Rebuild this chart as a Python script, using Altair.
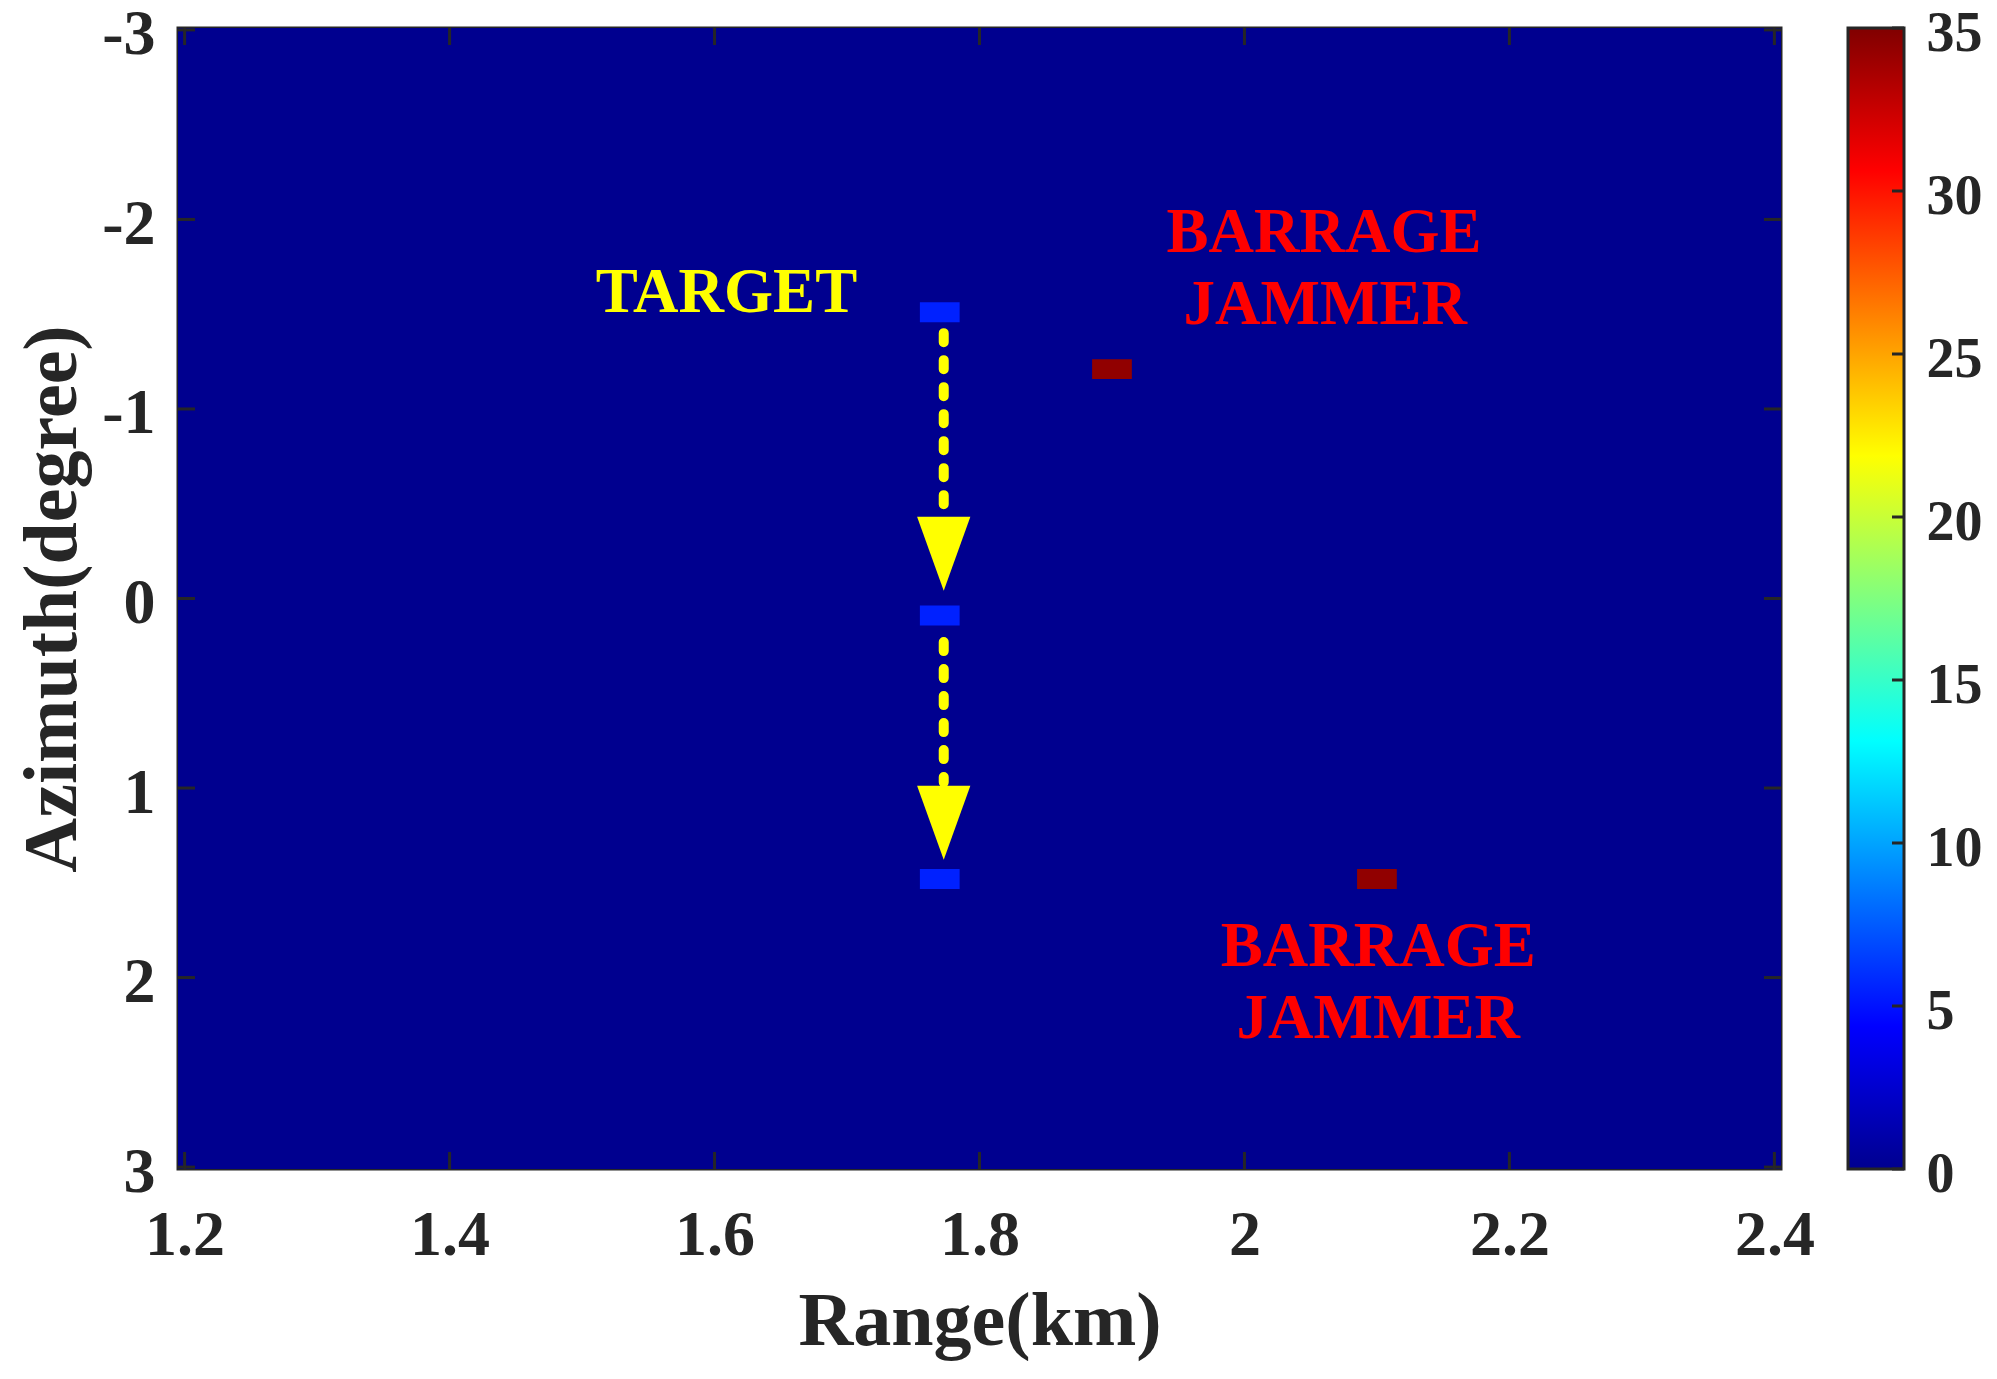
import altair as alt
import pandas as pd

# ---------------- data ----------------
range_ticks = [1.2, 1.4, 1.6, 1.8, 2.0, 2.2, 2.4]
azimuth_ticks = [-3, -2, -1, 0, 1, 2, 3]
range_domain = [1.195, 2.405]
azimuth_domain = [-3.01, 3.01]
colorbar_ticks = [0, 5, 10, 15, 20, 25, 30, 35]
colorbar_range = [0, 35]

# non-zero heatmap cells (centres)
cell_range = [1.77, 1.77, 1.77, 1.90, 2.10]
cell_azimuth = [-1.51, 0.09, 1.48, -1.21, 1.48]
cell_value = [5.5, 5.5, 5.5, 34.4, 34.4]
cell_width_km = 0.03
cell_height_deg = 0.105
background_value = 0

# arrows (target motion)
arrow_range = [1.773, 1.773]
arrow_shaft_start = [-1.40, 0.23]
arrow_shaft_end = [-0.46, 0.97]
arrow_head_center = [-0.236, 1.183]

# annotations
label_text = ["TARGET", "BARRAGE", "JAMMER", "BARRAGE", "JAMMER"]
label_range = [1.609, 2.060, 2.061, 2.101, 2.101]
label_azimuth = [-1.61, -1.93, -1.55, 1.84, 2.22]
label_color = ["#FFFF00", "#FF0000", "#FF0000", "#FF0000", "#FF0000"]

# jet colour map
jet_domain = [0, 4.375, 13.125, 21.875, 30.625, 35]
jet_range = ["#00008F", "#0000FF", "#00FFFF", "#FFFF00", "#FF0000", "#800000"]

W, H = 1603, 1141
TICK = 17
CB_GAP, CB_W, CB_TICK = 67, 56, 12
FONT = "Liberation Serif"
INK = "#262626"

# ---------------- tables ----------------
rows = [dict(x0=range_domain[0], x1=range_domain[1],
             y0=azimuth_domain[0], y1=azimuth_domain[1], value=background_value)]
for r, a, v in zip(cell_range, cell_azimuth, cell_value):
    rows.append(dict(x0=r - cell_width_km / 2, x1=r + cell_width_km / 2,
                     y0=a - cell_height_deg / 2, y1=a + cell_height_deg / 2, value=v))
heat_df = pd.DataFrame(rows)

arrow_df = pd.DataFrame(dict(r=arrow_range, a0=arrow_shaft_start, a1=arrow_shaft_end,
                             ah=arrow_head_center))
label_df = pd.DataFrame(dict(text=label_text, r=label_range, a=label_azimuth, color=label_color))
xt_df = pd.DataFrame(dict(r=range_ticks))
yt_df = pd.DataFrame(dict(a=azimuth_ticks))
cb_df = pd.DataFrame(dict(lo=[colorbar_range[0]], hi=[colorbar_range[1]]))
cbt_df = pd.DataFrame(dict(v=colorbar_ticks))

xscale = alt.Scale(domain=range_domain, nice=False, zero=False)
yscale = alt.Scale(domain=azimuth_domain, nice=False, zero=False, reverse=True)
cscale = alt.Scale(domain=jet_domain, range=jet_range, interpolate="rgb")
cbscale = alt.Scale(domain=colorbar_range, nice=False, zero=False)
label_expr = "datum.value + ''"

x_axis = alt.Axis(values=range_ticks, labelExpr=label_expr, title="Range(km)",
                  labelFlush=False, labelPadding=34, titlePadding=17)
y_axis = alt.Axis(values=azimuth_ticks, labelExpr=label_expr, title="Azimuth(degree)",
                  labelFlush=False, labelPadding=23, titlePadding=10, labelOffset=5)
cb_axis = alt.Axis(orient="right", offset=CB_GAP + CB_W, values=colorbar_ticks,
                   labelExpr=label_expr, title=None, labelFlush=False,
                   labelFontSize=56, labelPadding=22, labelOffset=5)


def X(field):
    return alt.X(field, type="quantitative", scale=xscale, axis=x_axis, title="Range(km)")


def Y(field):
    return alt.Y(field, type="quantitative", scale=yscale, axis=y_axis, title="Azimuth(degree)")


heat = alt.Chart(heat_df).mark_rect(strokeWidth=0).encode(
    x=X("x0"), x2="x1", y=Y("y0"), y2="y1",
    color=alt.Color("value:Q", scale=cscale, legend=None),
)

shafts = alt.Chart(arrow_df).mark_rule(
    color="#FFFF00", strokeWidth=10, strokeDash=[9, 18], strokeCap="round"
).encode(x=X("r"), y=Y("a0"), y2="a1")

heads = alt.Chart(arrow_df).mark_point(
    shape="M-0.72,-1L0.72,-1L0,1Z", filled=True, size=5476,
    color="#FFFF00", opacity=1, strokeWidth=0,
).encode(x=X("r"), y=Y("ah"))

labels = alt.Chart(label_df).mark_text(
    font=FONT, fontSize=63, fontWeight="bold", align="center", baseline="middle"
).encode(
    x=X("r"), y=Y("a"), text="text:N",
    color=alt.Color("color:N", scale=None, legend=None),
)

tick_style = dict(color=INK, strokeWidth=3)
left_ticks = alt.Chart(yt_df).mark_rule(**tick_style).encode(
    y=Y("a"), x=alt.value(0), x2=alt.value(TICK))
right_ticks = alt.Chart(yt_df).mark_rule(**tick_style).encode(
    y=Y("a"), x=alt.value(W - TICK), x2=alt.value(W))
bottom_ticks = alt.Chart(xt_df).mark_rule(**tick_style).encode(
    x=X("r"), y=alt.value(H - TICK), y2=alt.value(H))
top_ticks = alt.Chart(xt_df).mark_rule(**tick_style).encode(
    x=X("r"), y=alt.value(0), y2=alt.value(TICK))

main = alt.layer(heat, shafts, heads, labels,
                 left_ticks, right_ticks, bottom_ticks, top_ticks)

# colour bar
gradient = alt.Gradient(
    gradient="linear", x1=0, x2=0, y1=1, y2=0,
    stops=[alt.GradientStop(offset=d / colorbar_range[1], color=c)
           for d, c in zip(jet_domain, jet_range)],
)
cb_rect = alt.Chart(cb_df).mark_rect(color=gradient, stroke=INK, strokeWidth=3).encode(
    y=alt.Y("lo:Q", scale=cbscale, axis=cb_axis, title=None), y2="hi",
    x=alt.value(W + CB_GAP), x2=alt.value(W + CB_GAP + CB_W),
)
cb_ticks = alt.Chart(cbt_df).mark_rule(color=INK, strokeWidth=3).encode(
    y=alt.Y("v:Q", scale=cbscale, axis=cb_axis, title=None),
    x=alt.value(W + CB_GAP + CB_W - CB_TICK), x2=alt.value(W + CB_GAP + CB_W),
)
colorbar = alt.layer(cb_rect, cb_ticks)

chart = alt.layer(main, colorbar).resolve_scale(y="independent").properties(
    width=W, height=H,
    autosize=alt.AutoSizeParams(type="none"),
    padding={"left": 170, "top": 20, "right": 208, "bottom": 200},
).configure_view(
    stroke=INK, strokeWidth=3
).configure_axis(
    domain=False, ticks=False, grid=False,
    labelFont=FONT, labelFontSize=64, labelFontWeight="bold", labelColor=INK,
    titleFont=FONT, titleFontSize=76, titleFontWeight="bold", titleColor=INK,
)

chart.save("out.html", embed_options={"renderer": "svg", "actions": False})
